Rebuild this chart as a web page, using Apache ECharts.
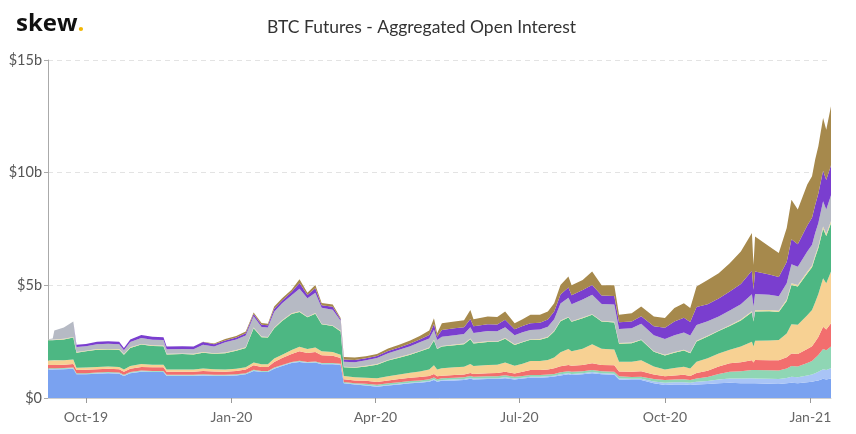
<!DOCTYPE html>
<html>
<head>
<meta charset="utf-8">
<script src="https://cdn.jsdelivr.net/npm/echarts@6/dist/echarts.min.js"></script>
<style>
  html, body { margin: 0; padding: 0; background: #fff; }
  #chart { width: 856px; height: 434px; }
</style>
</head>
<body>
<div id="chart"></div>
<script>
// sample dates (irregular, denser around big moves)
const dates = [
  "2019-09-07", "2019-09-10", "2019-09-11", "2019-09-17", "2019-09-23", "2019-09-25",
  "2019-10-01", "2019-10-08", "2019-10-15", "2019-10-22", "2019-10-25", "2019-10-29",
  "2019-11-05", "2019-11-12", "2019-11-19", "2019-11-21", "2019-12-01", "2019-12-08",
  "2019-12-14", "2019-12-21", "2019-12-28", "2020-01-04", "2020-01-10", "2020-01-15",
  "2020-01-20", "2020-01-24", "2020-01-28", "2020-02-02", "2020-02-08", "2020-02-13",
  "2020-02-18", "2020-02-23", "2020-02-27", "2020-03-05", "2020-03-10", "2020-03-12",
  "2020-03-19", "2020-03-26", "2020-04-02", "2020-04-09", "2020-04-16", "2020-04-23",
  "2020-04-29", "2020-05-05", "2020-05-08", "2020-05-10", "2020-05-13", "2020-05-21",
  "2020-05-27", "2020-05-31", "2020-06-02", "2020-06-11", "2020-06-17", "2020-06-22",
  "2020-06-28", "2020-07-03", "2020-07-08", "2020-07-14", "2020-07-19", "2020-07-23",
  "2020-07-27", "2020-08-01", "2020-08-03", "2020-08-10", "2020-08-16", "2020-08-22",
  "2020-08-30", "2020-09-02", "2020-09-10", "2020-09-16", "2020-09-24", "2020-10-01",
  "2020-10-07", "2020-10-13", "2020-10-17", "2020-10-21", "2020-10-28", "2020-11-04",
  "2020-11-11", "2020-11-18", "2020-11-25", "2020-11-26", "2020-11-27", "2020-12-06",
  "2020-12-12", "2020-12-17", "2020-12-20", "2020-12-24", "2020-12-30", "2021-01-02",
  "2021-01-04", "2021-01-06", "2021-01-09", "2021-01-11", "2021-01-14"
];

// open interest per layer, $b, bottom to top
const blue = [
  1.27, 1.27, 1.27, 1.28, 1.3, 1.05, 1.05, 1.08, 1.1, 1.08, 0.98, 1.1,
  1.17, 1.15, 1.15, 0.98, 0.98, 0.98, 1.0, 0.98, 0.98, 1.0, 1.05, 1.2,
  1.15, 1.15, 1.3, 1.42, 1.55, 1.6, 1.55, 1.57, 1.5, 1.5, 1.47, 0.65,
  0.6, 0.55, 0.5, 0.55, 0.6, 0.65, 0.68, 0.72, 0.8, 0.72, 0.76, 0.78,
  0.8, 0.85, 0.82, 0.84, 0.84, 0.88, 0.82, 0.86, 0.9, 0.9, 0.92, 0.95,
  1.0, 1.05, 1.02, 1.05, 1.1, 1.05, 1.03, 0.82, 0.8, 0.8, 0.66, 0.58,
  0.6, 0.6, 0.58, 0.6, 0.62, 0.65, 0.68, 0.66, 0.66, 0.62, 0.65, 0.63,
  0.62, 0.65, 0.68, 0.66, 0.7, 0.72, 0.75, 0.78, 0.85, 0.82, 0.87
];
const lightBlue = [
  0.02, 0.02, 0.02, 0.02, 0.02, 0.02, 0.02, 0.02, 0.02, 0.02, 0.02, 0.02,
  0.02, 0.02, 0.02, 0.02, 0.02, 0.02, 0.02, 0.02, 0.02, 0.02, 0.02, 0.02,
  0.02, 0.02, 0.02, 0.02, 0.02, 0.02, 0.02, 0.02, 0.02, 0.02, 0.02, 0.02,
  0.02, 0.03, 0.03, 0.03, 0.03, 0.03, 0.03, 0.03, 0.03, 0.03, 0.04, 0.04,
  0.04, 0.04, 0.04, 0.04, 0.04, 0.04, 0.04, 0.04, 0.04, 0.04, 0.04, 0.04,
  0.05, 0.05, 0.05, 0.05, 0.05, 0.05, 0.05, 0.05, 0.05, 0.05, 0.07, 0.1,
  0.1, 0.1, 0.1, 0.12, 0.13, 0.17, 0.19, 0.2, 0.22, 0.21, 0.22, 0.22,
  0.22, 0.24, 0.26, 0.26, 0.3, 0.32, 0.35, 0.38, 0.43, 0.42, 0.45
];
const mint = [
  0.03, 0.03, 0.03, 0.03, 0.03, 0.03, 0.03, 0.03, 0.03, 0.03, 0.03, 0.03,
  0.03, 0.03, 0.03, 0.03, 0.03, 0.03, 0.03, 0.03, 0.03, 0.03, 0.03, 0.03,
  0.03, 0.03, 0.03, 0.03, 0.03, 0.03, 0.03, 0.03, 0.03, 0.03, 0.03, 0.04,
  0.04, 0.05, 0.06, 0.07, 0.07, 0.07, 0.07, 0.08, 0.08, 0.08, 0.08, 0.08,
  0.08, 0.09, 0.08, 0.09, 0.09, 0.09, 0.08, 0.08, 0.08, 0.08, 0.08, 0.08,
  0.09, 0.09, 0.09, 0.09, 0.09, 0.09, 0.09, 0.09, 0.08, 0.09, 0.11, 0.12,
  0.12, 0.13, 0.12, 0.15, 0.18, 0.25, 0.3, 0.33, 0.36, 0.34, 0.37, 0.38,
  0.38, 0.42, 0.48, 0.48, 0.55, 0.6, 0.68, 0.75, 0.9, 0.88, 0.96
];
const red = [
  0.14, 0.14, 0.15, 0.15, 0.16, 0.14, 0.15, 0.15, 0.15, 0.15, 0.14, 0.15,
  0.16, 0.16, 0.16, 0.14, 0.14, 0.14, 0.15, 0.15, 0.14, 0.15, 0.16, 0.2,
  0.18, 0.18, 0.25, 0.3, 0.35, 0.42, 0.4, 0.42, 0.35, 0.33, 0.26, 0.12,
  0.12, 0.13, 0.12, 0.13, 0.14, 0.15, 0.15, 0.15, 0.16, 0.14, 0.11, 0.12,
  0.12, 0.13, 0.12, 0.13, 0.14, 0.16, 0.15, 0.18, 0.22, 0.22, 0.23, 0.25,
  0.27, 0.28, 0.27, 0.28, 0.3, 0.28, 0.28, 0.22, 0.24, 0.25, 0.2, 0.17,
  0.18, 0.2, 0.18, 0.24, 0.28, 0.33, 0.37, 0.4, 0.44, 0.4, 0.45, 0.44,
  0.45, 0.5, 0.55, 0.55, 0.62, 0.66, 0.72, 0.8, 0.98, 0.92, 1.04
];
const peach = [
  0.2, 0.2, 0.2, 0.2, 0.2, 0.1, 0.1, 0.1, 0.1, 0.1, 0.1, 0.12,
  0.13, 0.12, 0.12, 0.1, 0.1, 0.1, 0.11, 0.1, 0.1, 0.1, 0.11, 0.13,
  0.12, 0.12, 0.15, 0.15, 0.18, 0.2, 0.18, 0.2, 0.17, 0.16, 0.14, 0.15,
  0.14, 0.14, 0.17, 0.18, 0.2, 0.22, 0.25, 0.28, 0.38, 0.3, 0.33, 0.34,
  0.35, 0.4, 0.36, 0.37, 0.37, 0.4, 0.34, 0.36, 0.4, 0.4, 0.42, 0.48,
  0.62, 0.7, 0.65, 0.72, 0.84, 0.72, 0.7, 0.43, 0.44, 0.48, 0.36, 0.3,
  0.33, 0.36, 0.33, 0.5, 0.55, 0.57, 0.6, 0.7, 0.82, 0.72, 0.85, 0.88,
  0.9, 1.05, 1.3, 1.3, 1.5, 1.6, 1.75, 1.9, 2.15, 2.05, 2.29
];
const green = [
  0.9, 0.9, 0.9, 0.92, 0.97, 0.67, 0.72, 0.76, 0.75, 0.76, 0.65, 0.8,
  0.86, 0.83, 0.82, 0.66, 0.68, 0.66, 0.7, 0.68, 0.72, 0.8, 0.85, 1.52,
  1.2, 1.18, 1.35, 1.5, 1.6, 1.55, 1.4, 1.5, 1.2, 1.15, 1.03, 0.38,
  0.42, 0.5, 0.6, 0.7, 0.75, 0.8, 0.88, 0.95, 1.1, 0.9, 0.96, 0.98,
  1.0, 1.1, 1.0, 1.02, 1.0, 1.06, 0.92, 0.95, 0.94, 0.95, 1.0, 1.15,
  1.38, 1.4, 1.3, 1.35, 1.31, 1.2, 1.2, 0.8, 0.82, 0.9, 0.65, 0.62,
  0.68, 0.72, 0.68, 0.9, 0.97, 1.0, 1.06, 1.15, 1.3, 1.1, 1.3, 1.3,
  1.25, 1.45, 1.75, 1.7, 1.85, 1.9, 2.0, 2.05, 2.2, 2.1, 2.15
];
const paleYellow = [
  0.03, 0.03, 0.03, 0.03, 0.03, 0.03, 0.03, 0.03, 0.03, 0.03, 0.03, 0.03,
  0.03, 0.03, 0.03, 0.03, 0.03, 0.03, 0.03, 0.03, 0.03, 0.03, 0.03, 0.03,
  0.03, 0.03, 0.03, 0.03, 0.03, 0.03, 0.03, 0.03, 0.03, 0.03, 0.03, 0.03,
  0.03, 0.03, 0.03, 0.03, 0.03, 0.03, 0.03, 0.03, 0.03, 0.03, 0.03, 0.03,
  0.03, 0.03, 0.03, 0.03, 0.03, 0.03, 0.03, 0.03, 0.03, 0.03, 0.03, 0.03,
  0.03, 0.03, 0.03, 0.03, 0.03, 0.03, 0.03, 0.03, 0.03, 0.03, 0.03, 0.03,
  0.03, 0.03, 0.03, 0.03, 0.03, 0.03, 0.03, 0.04, 0.05, 0.04, 0.05, 0.05,
  0.05, 0.06, 0.07, 0.07, 0.08, 0.08, 0.09, 0.09, 0.1, 0.1, 0.1
];
const gray = [
  0.02, 0.05, 0.4, 0.5, 0.68, 0.22, 0.2, 0.22, 0.23, 0.22, 0.17, 0.23,
  0.26, 0.25, 0.24, 0.2, 0.2, 0.2, 0.32, 0.3, 0.45, 0.47, 0.52, 0.5,
  0.42, 0.42, 0.7, 0.75, 0.8, 1.0, 0.82, 0.9, 0.7, 0.7, 0.45, 0.22,
  0.22, 0.25, 0.27, 0.3, 0.32, 0.35, 0.38, 0.4, 0.45, 0.37, 0.41, 0.42,
  0.42, 0.5, 0.43, 0.45, 0.45, 0.48, 0.4, 0.42, 0.41, 0.42, 0.44, 0.52,
  0.75, 0.85, 0.75, 0.8, 0.86, 0.75, 0.77, 0.62, 0.64, 0.7, 0.7, 0.7,
  0.75, 0.77, 0.75, 0.7, 0.65, 0.62, 0.65, 0.68, 0.75, 0.62, 0.72, 0.68,
  0.65, 0.72, 0.85, 0.8, 0.9, 0.92, 0.98, 1.02, 1.12, 1.08, 1.14
];
const purple = [
  0, 0, 0, 0, 0, 0.1, 0.1, 0.11, 0.11, 0.11, 0.1, 0.12,
  0.14, 0.13, 0.13, 0.12, 0.12, 0.12, 0.12, 0.1, 0.08, 0.08, 0.1, 0.1,
  0.1, 0.1, 0.13, 0.13, 0.14, 0.25, 0.14, 0.2, 0.12, 0.13, 0.07, 0.1,
  0.1, 0.08, 0.08, 0.1, 0.1, 0.12, 0.13, 0.16, 0.25, 0.15, 0.3, 0.3,
  0.3, 0.37, 0.3, 0.3, 0.3, 0.33, 0.27, 0.28, 0.3, 0.3, 0.32, 0.34,
  0.4, 0.45, 0.4, 0.42, 0.44, 0.38, 0.38, 0.3, 0.29, 0.33, 0.4, 0.5,
  0.6, 0.65, 0.6, 0.8, 0.75, 0.8, 0.85, 0.9, 1.05, 0.75, 1.0, 0.9,
  0.85, 0.95, 1.1, 1.0, 1.15, 1.2, 1.25, 1.3, 1.35, 1.3, 1.33
];
const brown = [
  0, 0, 0, 0, 0, 0, 0, 0, 0, 0, 0, 0,
  0, 0, 0, 0, 0, 0, 0.02, 0.03, 0.07, 0.07, 0.08, 0.06,
  0.08, 0.07, 0.1, 0.1, 0.1, 0.17, 0.1, 0.15, 0.1, 0.1, 0.05, 0.11,
  0.11, 0.09, 0.09, 0.11, 0.12, 0.13, 0.15, 0.2, 0.26, 0.15, 0.3, 0.31,
  0.31, 0.4, 0.32, 0.35, 0.34, 0.37, 0.27, 0.3, 0.37, 0.36, 0.36, 0.36,
  0.43, 0.49, 0.44, 0.45, 0.59, 0.45, 0.47, 0.33, 0.37, 0.43, 0.44, 0.43,
  0.6, 0.65, 0.62, 0.91, 1.08, 1.12, 1.25, 1.44, 1.67, 1.1, 1.56, 1.24,
  1.06, 1.5, 1.76, 1.54, 1.82, 1.84, 2.01, 2.1, 2.35, 2.24, 2.62
];

const layers = [
  { name: "blue", data: blue, color: "#7aa2f0" },
  { name: "lightBlue", data: lightBlue, color: "#a9c4f6" },
  { name: "mint", data: mint, color: "#8fd6b4" },
  { name: "red", data: red, color: "#f26e6e" },
  { name: "peach", data: peach, color: "#f7d193" },
  { name: "green", data: green, color: "#4db783" },
  { name: "paleYellow", data: paleYellow, color: "#ecdb9e" },
  { name: "gray", data: gray, color: "#b6bac4" },
  { name: "purple", data: purple, color: "#7a3ecf" },
  { name: "brown", data: brown, color: "#a6894c" }
];

const tickDates = ["2019-10-01", "2020-01-01", "2020-04-01", "2020-07-01", "2020-10-01", "2021-01-01"];
const months = ["Jan", "Feb", "Mar", "Apr", "May", "Jun", "Jul", "Aug", "Sep", "Oct", "Nov", "Dec"];
const yTicks = [0, 5, 10, 15];

const toTime = (s) => echarts.time.parse(s).getTime();
const tickTimes = tickDates.map(toTime);
const tMin = toTime(dates[0]);
const tMax = toTime(dates[dates.length - 1]);

const option = {
  animation: false,
  backgroundColor: "#fff",
  textStyle: { fontFamily: "Lato" },
  title: [
    {
      text: "{a|skew}{b|.}",
      left: 11,
      top: 7,
      textStyle: {
        rich: {
          a: { fontFamily: "Open Sans", fontWeight: "bold", fontSize: 24, color: "#111" },
          b: { fontFamily: "Open Sans", fontWeight: "bold", fontSize: 24, color: "#f2b705" }
        }
      }
    },
    {
      text: "BTC Futures - Aggregated Open Interest",
      left: 262,
      top: 13,
      textStyle: { fontFamily: "Lato", fontWeight: "normal", fontSize: 17.5, color: "#333" }
    }
  ],
  grid: { left: 48, right: 25, top: 60, bottom: 36 },
  xAxis: [
    {
      // carries the series (time dims stack on the values)
      type: "time",
      min: tMin,
      max: tMax,
      position: "bottom",
      show: false
    },
    {
      // same range as plain numbers, only for the quarter ticks and labels
      type: "value",
      min: tMin,
      max: tMax,
      position: "bottom",
      axisLine: { lineStyle: { color: "#cfcfcf" } },
      axisTick: { customValues: tickTimes, length: 5, lineStyle: { color: "#999" } },
      axisLabel: {
        customValues: tickTimes,
        color: "#666",
        fontSize: 14,
        margin: 12,
        formatter: (value) => {
          const d = new Date(value);
          return months[d.getMonth()] + "-" + String(d.getFullYear()).slice(2);
        }
      },
      splitLine: { show: false }
    }
  ],
  yAxis: {
    type: "value",
    min: yTicks[0],
    max: yTicks[yTicks.length - 1],
    interval: 5,
    axisLine: { show: true, lineStyle: { color: "#aaa" } },
    axisTick: { show: true, length: 4, lineStyle: { color: "#aaa" } },
    axisLabel: {
      color: "#555",
      fontSize: 14.5,
      margin: 6,
      formatter: (v) => (v === 0 ? "$0" : "$" + v + "b")
    },
    splitLine: { lineStyle: { color: "#e3e3e3", type: [5, 4] } }
  },
  series: layers.map((layer) => ({
    name: layer.name,
    type: "line",
    stack: "oi",
    xAxisIndex: 0,
    showSymbol: false,
    lineStyle: { width: 0 },
    areaStyle: { color: layer.color, opacity: 1 },
    itemStyle: { color: layer.color },
    data: dates.map((d, i) => [toTime(d), layer.data[i]])
  }))
};

const chart = echarts.init(document.getElementById("chart"));
chart.setOption(option);
</script>
</body>
</html>
